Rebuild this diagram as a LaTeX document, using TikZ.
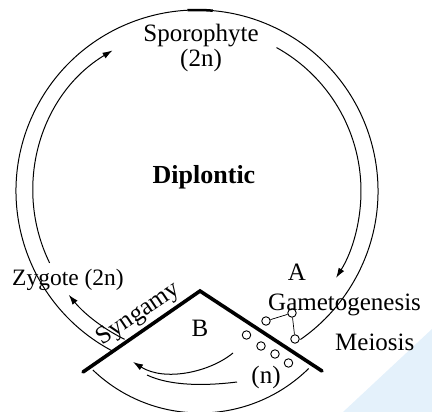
\documentclass[tikz,border=0pt]{standalone}
\usepackage{fontspec}
\setmainfont{Liberation Serif}
\usetikzlibrary{arrows.meta,calc}
\begin{document}
\begin{tikzpicture}[x=1pt,y=-1pt,
  thin line/.style={line width=1pt,black},
  thick bar/.style={line width=3.6pt,black,line cap=round},
  lbl/.style={font=\fontsize{25}{28}\selectfont,inner sep=0pt},
  cell/.style={circle,draw,line width=0.9pt,minimum size=8.5pt,inner sep=0pt},
  tipA/.style={-{Latex[length=10pt,width=6.5pt]}}]
\useasboundingbox (0,0) rectangle (432,412);
% watermark
\fill[fill={rgb,255:red,228;green,241;blue,251}] (432,329) -- (343,412) -- (432,412) -- cycle;
% centres
\coordinate (O) at (197,191);
\coordinate (Ob) at (200,258);
% outer circle
\draw[thin line] ($(O)+(242:181pt)$) arc[start angle=242,end angle=-55,radius=181pt];
\draw[line width=2.5pt] ($(O)+(93:181pt)$) arc[start angle=93,end angle=85,radius=181pt];
% inner arrows
\draw[thin line,tipA] ($(O)+(61:164pt)$) arc[start angle=61,end angle=-32,radius=164pt];
\draw[thin line,tipA] ($(O)+(206:164pt)$) arc[start angle=206,end angle=121,radius=164pt];
\draw[thin line,tipA] ($(O)+(244:165pt)$) arc[start angle=244,end angle=219,radius=165pt];
% bottom arc
\draw[thin line] ($(Ob)+(226.3:155pt)$) arc[start angle=226.3,end angle=314.5,radius=155pt];
% V
\coordinate (vl) at (83,372);
\coordinate (va) at (200,291);
\coordinate (vr) at (322,371);
\draw[thick bar,line join=miter] (vl) -- (va) -- (vr);
% cells
\node[cell] (c1) at (246.5,335) {};
\node[cell] (c2) at (266,321) {};
\node[cell] (c3) at (292,313) {};
\node[cell] (c4) at (295,339) {};
\node[cell] (c5) at (261,346) {};
\node[cell] (c6) at (275,354) {};
\node[cell] (c7) at (288.5,363) {};
\coordinate (oe) at ($(O)+(-55:181pt)$);
\draw[thin line,line width=0.7pt] (oe) -- (c4) -- (c3) -- (c2);
% (n) arrows
\coordinate (n1) at (233,353);
\coordinate (n2) at (133,362);
\coordinate (n3) at (237,382);
\coordinate (n4) at (147,375);
\draw[thin line,tipA] (n1) .. controls (210,372) and (165,382) .. (n2);
\draw[thin line] (n3) .. controls (205,386) and (170,386) .. (n4);
% labels
\node[lbl,anchor=base] (spo) at (201,41.5) {Sporophyte};
\node[lbl,anchor=base] (spn) at (201,67) {(2n)};
\node[lbl,anchor=base,font=\fontsize{26}{28}\selectfont\bfseries] (dip) at (204,183) {Diplontic};
\node[lbl,anchor=base west,font=\fontsize{23.5}{28}\selectfont] (zyg) at (12,285) {Zygote (2n)};
\node[lbl,anchor=base] (A) at (297,280) {A};
\node[lbl,anchor=base west] (gam) at (268,310) {Gametogenesis};
\node[lbl,anchor=base west] (mei) at (335,350) {Meiosis};
\node[lbl,anchor=base] (B) at (200,336) {B};
\node[lbl,anchor=base] (n) at (266,383) {(n)};
\node[lbl,rotate=34] (syn) at (139,314) {Syngamy};
\end{tikzpicture}
\end{document}
